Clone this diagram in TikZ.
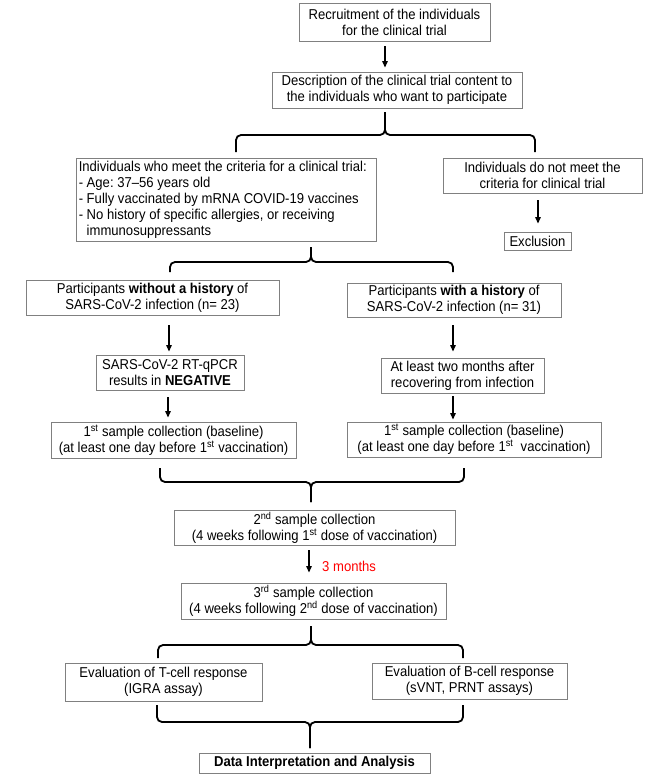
\documentclass[tikz,border=0pt]{standalone}
\usepackage{fontspec}
\setmainfont{Liberation Sans}[FakeStretch=0.915]
\usetikzlibrary{arrows.meta}
\frenchspacing
\definecolor{boxgray}{RGB}{128,128,128}
\definecolor{monthred}{RGB}{255,0,0}
\tikzset{
  box/.style={draw=boxgray, line width=0.9pt, fill=white, align=center, inner sep=0pt,
    font=\fontsize{14.3}{16}\selectfont},
  arr/.style={line width=1.3pt, -{Triangle[length=6.5pt,width=5.5pt]}},
  bracestyle/.style={line width=1.8pt, rounded corners=5pt},
}
\newcommand\bracepath[6]{%
  \draw[bracestyle] (#1,#4) -- (#1,#5) -- (#2,#5) -- (#2,#6);
  \draw[bracestyle] (#3,#4) -- (#3,#5) -- (#2,#5) -- (#2,#6);}
\begin{document}
\begin{tikzpicture}[x=1pt,y=-1pt]
\useasboundingbox (0,0) rectangle (669,777);
\fill[white] (0,0) rectangle (669,777);

\node[box, minimum width=191pt, minimum height=38pt] (rec) at (394.5,22)
  {Recruitment of the individuals\\for the clinical trial};
\node[box, minimum width=250pt, minimum height=36pt] (desc) at (397,90)
  {Description of the clinical trial content to\\the individuals who want to participate};
\node[box, minimum width=300pt, minimum height=83pt] (crit) at (226,200) {};
\node[align=left, anchor=west, inner sep=0pt, font=\fontsize{14.3}{16}\selectfont]
  (crittext) at ([xshift=3pt]crit.west)
  {Individuals who meet the criteria for a clinical trial:\\
   - Age: 37–56 years old\\
   - Fully vaccinated by mRNA COVID-19 vaccines\\
   - No history of specific allergies, or receiving\\
   \phantom{- }immunosuppressants};
\node[box, minimum width=199pt, minimum height=35pt] (notmeet) at (542.5,175.5)
  {Individuals do not meet the\\criteria for clinical trial};
\node[box, minimum width=67pt, minimum height=18pt] (excl) at (537.5,241) {Exclusion};

\node[box, minimum width=253pt, minimum height=35pt] (without) at (152.5,297.5)
  {Participants \textbf{without a history} of\\SARS-CoV-2 infection (n= 23)};
\node[box, minimum width=214pt, minimum height=34pt] (with) at (454,300)
  {Participants \textbf{with a history} of\\SARS-CoV-2 infection (n= 31)};
\node[box, minimum width=148pt, minimum height=35pt] (rt) at (170,372.5)
  {SARS-CoV-2 RT-qPCR\\results in \textbf{NEGATIVE}};
\node[box, minimum width=163pt, minimum height=35pt] (two) at (462.5,375.5)
  {At least two months after\\recovering from infection};
\node[box, minimum width=245pt, minimum height=36pt] (firstL) at (173.5,440)
  {1\textsuperscript{st} sample collection (baseline)\\(at least one day before 1\textsuperscript{st} vaccination)};
\node[box, minimum width=254pt, minimum height=35pt] (firstR) at (474,439.5)
  {1\textsuperscript{st} sample collection (baseline)\\(at least one day before 1\textsuperscript{st}\ \ vaccination)};

\node[box, minimum width=281pt, minimum height=35pt] (second) at (314.5,527.5)
  {2\textsuperscript{nd} sample collection\\(4 weeks following 1\textsuperscript{st} dose of vaccination)};
\node[box, minimum width=265pt, minimum height=36pt] (third) at (313.5,601)
  {3\textsuperscript{rd} sample collection\\(4 weeks following 2\textsuperscript{nd} dose of vaccination)};
\node[font=\fontsize{14.3}{16}\selectfont, text=monthred, anchor=west, inner sep=0pt] (months) at (322,566) {3 months};

\node[box, minimum width=197pt, minimum height=38pt] (tcell) at (163.5,682)
  {Evaluation of T-cell response\\(IGRA assay)};
\node[box, minimum width=195pt, minimum height=36pt] (bcell) at (469.5,681)
  {Evaluation of B-cell response\\(sVNT, PRNT assays)};
\node[box, minimum width=231pt, minimum height=20pt] (data) at (314.5,763)
  {\textbf{Data Interpretation and Analysis}};

% arrows
\draw[arr, shorten <=5pt, shorten >=4pt] ([xshift=-9.5pt]rec.south) -- ([xshift=-12pt]desc.north);
\draw[arr, shorten <=7pt, shorten >=8pt] ([xshift=-4.5pt]notmeet.south) -- ([xshift=0.5pt]excl.north);
\draw[arr, shorten <=10pt, shorten >=3pt] ([xshift=16.5pt]without.south) -- ([xshift=-1pt]rt.north);
\draw[arr, shorten <=8pt, shorten >=6pt] ([xshift=-1pt]with.south) -- ([xshift=-9.5pt]two.north);
\draw[arr, shorten <=7pt, shorten >=4pt] ([xshift=-2pt]rt.south) -- ([xshift=-5.5pt]firstL.north);
\draw[arr, shorten <=3pt, shorten >=2pt] ([xshift=-9.5pt]two.south) -- ([xshift=-21pt]firstR.north);
\draw[arr, shorten <=5pt, shorten >=10pt] ([xshift=-5.5pt]second.south) -- ([xshift=-4.5pt]third.north);

% braces
\bracepath{236}{385}{535}{152}{135}{112}
\bracepath{170}{311}{453}{272}{262}{247}
\bracepath{160}{311}{464}{468}{482}{502}
\bracepath{158}{311}{463}{658}{645}{626}
\bracepath{157}{310}{463}{705}{722}{748}
\end{tikzpicture}
\end{document}
